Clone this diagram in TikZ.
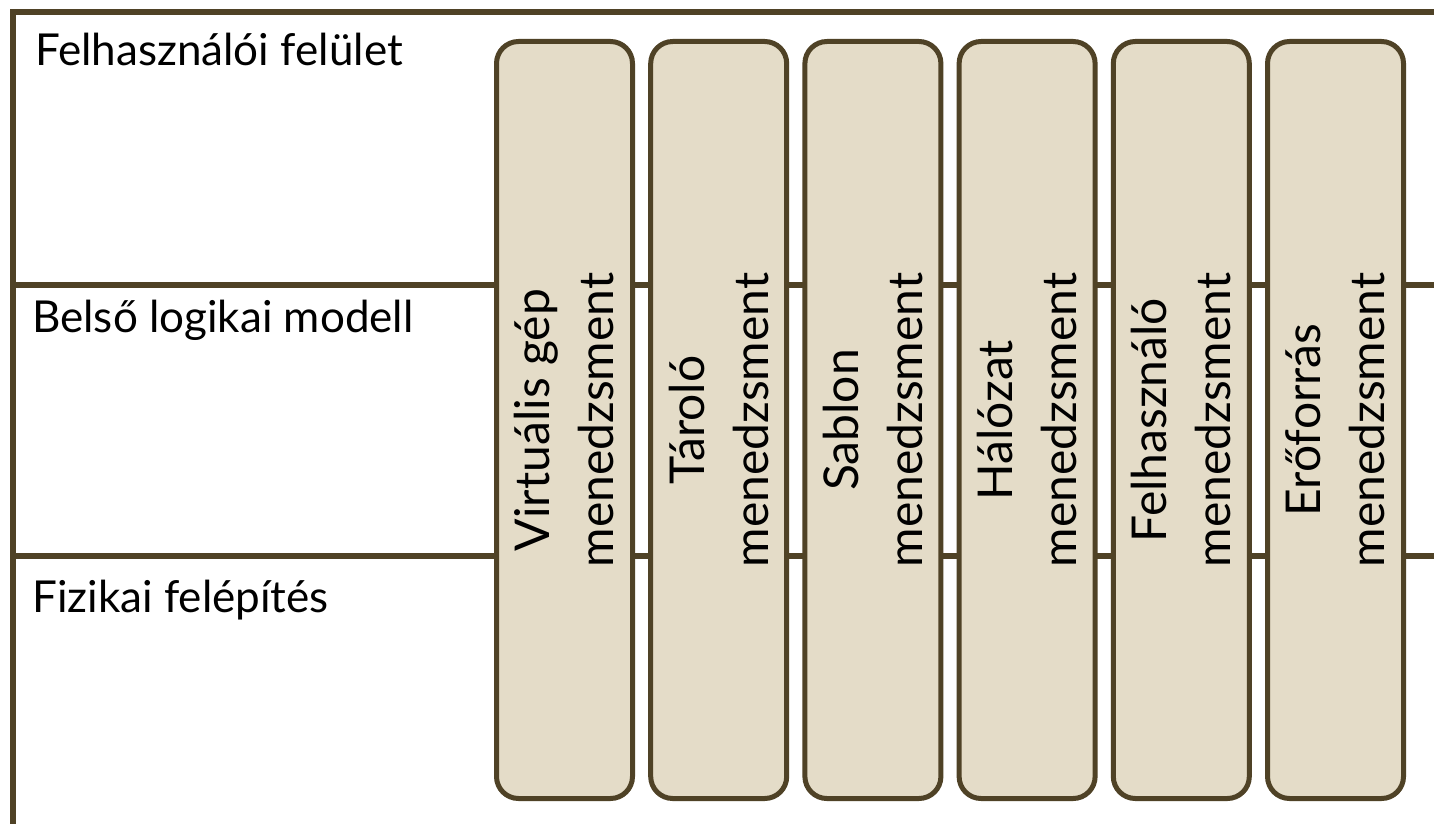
\documentclass[tikz,border=0pt]{standalone}
\usepackage{fontspec}
\setmainfont{Lato}
\definecolor{framec}{RGB}{79,66,38}
\definecolor{boxfill}{RGB}{228,220,200}
\begin{document}
\begin{tikzpicture}[x=1pt,y=-1pt,
  frameline/.style={draw=framec,line width=6pt},
  mgrbox/.style={draw=framec,fill=boxfill,line width=5pt,rounded corners=22pt,
    rotate=90,minimum width=757pt,minimum height=136pt,inner sep=0pt,
    align=center,font=\fontsize{48}{64}\selectfont},
  layerlabel/.style={anchor=base west,inner sep=0pt,font=\fontsize{44}{50}\selectfont}]
\useasboundingbox (0,0) rectangle (1434,824);
\fill[white] (0,0) rectangle (1434,824);
% frame lines
\draw[frameline] (13,824) -- (13,12.5) -- (1434,12.5);
\draw[frameline] (13,284.5) -- (1434,284.5);
\draw[frameline] (13,556) -- (1434,556);
% labels
\node[layerlabel] (l1) at (35,66) {Felhasználói felület};
\node[layerlabel] (l2) at (32,332) {Belső logikai modell};
\node[layerlabel] (l3) at (32,612) {Fizikai felépítés};
% boxes
\node[mgrbox] (b1) at (564.5,420) {Virtuális gép\\menedzsment};
\node[mgrbox] (b2) at (718.7,420) {Tároló\\menedzsment};
\node[mgrbox] (b3) at (872.9,420) {Sablon\\menedzsment};
\node[mgrbox] (b4) at (1027.1,420) {Hálózat\\menedzsment};
\node[mgrbox] (b5) at (1181.3,420) {Felhasználó\\menedzsment};
\node[mgrbox] (b6) at (1335.5,420) {Erőforrás\\menedzsment};
\end{tikzpicture}
\end{document}
